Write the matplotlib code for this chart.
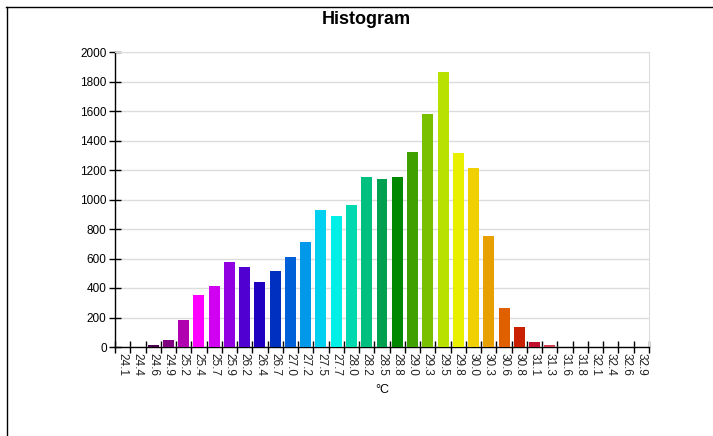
import matplotlib
matplotlib.use("Agg")
import matplotlib.pyplot as plt
from matplotlib.lines import Line2D

categories = ["24.1", "24.4", "24.6", "24.9", "25.2", "25.4", "25.7", "25.9", "26.2", "26.4",
              "26.7", "27.0", "27.2", "27.5", "27.7", "28.0", "28.2", "28.5", "28.8", "29.0",
              "29.3", "29.5", "29.8", "30.0", "30.3", "30.6", "30.8", "31.1", "31.3", "31.6",
              "31.8", "32.1", "32.4", "32.6", "32.9"]
counts = [0, 0, 12, 47, 181, 353, 414, 576, 542, 441,
          515, 612, 712, 929, 888, 965, 1155, 1140, 1155, 1324,
          1582, 1867, 1318, 1211, 755, 267, 136, 34, 14, 3,
          0, 0, 0, 0, 0]
colors = ["#3a003a", "#400040", "#4a004a", "#800080", "#b000b0", "#ff00ff", "#d000f0", "#9000e0",
          "#5000d0", "#2000c0", "#0030c0", "#0060d8", "#0098e8", "#00d0f0", "#00f0e8", "#00d8b0",
          "#00c080", "#00a050", "#008800", "#40a000", "#78c000", "#b8e000", "#e8f000", "#f0d000",
          "#e8a000", "#e06000", "#c82000", "#c01030", "#d04050", "#d06060", "#d07070", "#d08080",
          "#d09090", "#d0a0a0", "#d0b0b0"]
yticks = [0, 200, 400, 600, 800, 1000, 1200, 1400, 1600, 1800, 2000]

plt.rcParams['font.family'] = ['Liberation Sans', 'DejaVu Sans']

W, H = 713, 436
fig = plt.figure(figsize=(W / 100, H / 100), dpi=100)
ax = fig.add_axes([115 / W, 1 - 347 / H, (649 - 115) / W, (347 - 52) / H])

x = list(range(len(categories)))
ax.bar(x, counts, width=0.72, color=colors, zorder=3)
ax.set_xlim(-0.5, len(categories) - 0.5)
ax.set_ylim(0, 2000)
ax.set_yticks(yticks)
ax.set_yticklabels([str(v) for v in yticks], fontsize=8.5)
ax.set_xticks(x)
ax.set_xticklabels(categories, rotation=270, fontsize=8.5, color='#222222')
ax.tick_params(axis='x', which='major', length=0, pad=4)
ax.set_xticks([i - 0.5 for i in range(len(categories) + 1)], minor=True)
ax.tick_params(axis='x', which='minor', direction='inout', length=8, width=1, color='black')
ax.tick_params(axis='y', direction='inout', length=8, width=1, color='black', pad=2)
ax.grid(axis='y', color='#dcdcdc', linewidth=1, zorder=0)
for s in ['top', 'right']:
    ax.spines[s].set_color('#dcdcdc')
for s in ['left', 'bottom']:
    ax.spines[s].set_color('black')
    ax.spines[s].set_linewidth(1)

fig.text(382 / W, 1 - 390 / H, "°C", ha='center', va='center', fontsize=9)
fig.text(366 / W, 1 - 19 / H, "Histogram", ha='center', va='center', fontsize=13, fontweight='bold')

# frame lines (top and left)
fig.add_artist(Line2D([6 / W, 1.0], [1 - 7.5 / H, 1 - 7.5 / H], color='black', linewidth=1.0, transform=fig.transFigure))
fig.add_artist(Line2D([6.5 / W, 6.5 / W], [1 - 7.5 / H, 0.0], color='black', linewidth=1.0, transform=fig.transFigure))

fig.savefig("out.png", dpi=100)
